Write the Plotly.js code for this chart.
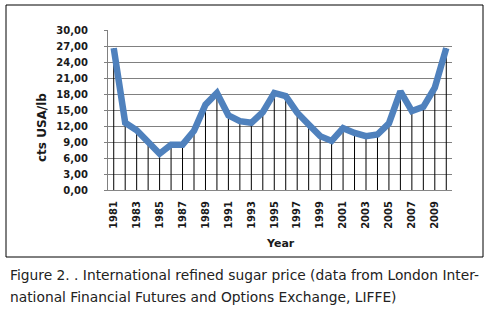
<!DOCTYPE html>
<html>
<head>
<meta charset="utf-8">
<script src="https://cdn.plot.ly/plotly-3.0.1.min.js"></script>
<style>
  html, body { margin: 0; padding: 0; background: #fff; }
  #chart { width: 489px; height: 317px; }
</style>
</head>
<body>
<div id="chart"></div>
<script>
// years and price (cts USA/lb)
const years = [1981, 1982, 1983, 1984, 1985, 1986, 1987, 1988, 1989, 1990,
               1991, 1992, 1993, 1994, 1995, 1996, 1997, 1998, 1999, 2000,
               2001, 2002, 2003, 2004, 2005, 2006, 2007, 2008, 2009, 2010];
const price = [26.6, 12.6, 11.2, 8.9, 6.8, 8.5, 8.5, 11.1, 16.0, 18.2,
               14.0, 12.9, 12.6, 14.6, 18.2, 17.6, 14.5, 12.3, 10.1, 9.2,
               11.6, 10.7, 10.1, 10.4, 12.5, 18.5, 14.8, 15.6, 19.2, 26.6];
const tickYears = years.filter((y, i) => i % 2 === 0).map(String);
const zeros = price.map(() => 0);

const categories = years.map(String);

// plot area in pixels: x 108..452, y 30..190
const W = 489, H = 317;
const L = 108, R = 37, T = 30, B = 127;
const pw = W - L - R, ph = H - T - B;
function px(x) { return (x - L) / pw; }
function py(y) { return (H - B - y) / ph; }

const trace = {
    x: categories,
    y: price,
    type: 'scatter',
    mode: 'lines',
    line: { color: '#4F81BD', width: 6.5 },
    error_y: {
        type: 'data',
        symmetric: false,
        array: zeros,
        arrayminus: price,
        width: 0,
        thickness: 1,
        color: '#000'
    },
    hoverinfo: 'x+y'
};

const labelFont = { family: 'DejaVu Sans', size: 10, color: '#1a1a1a', weight: 'bold' };

const layout = {
    width: W,
    height: H,
    margin: { l: L, r: R, t: T, b: B, pad: 0 },
    paper_bgcolor: '#fff',
    plot_bgcolor: '#fff',
    showlegend: false,
    separators: ',.',
    xaxis: {
        type: 'category',
        range: [-0.5, 29.5],
        tickmode: 'array',
        tickvals: tickYears,
        ticktext: tickYears,
        tickangle: -90,
        tickfont: labelFont,
        showgrid: false,
        showline: true,
        linecolor: '#868686',
        linewidth: 1,
        ticks: '',
        ticklabelstandoff: 6,
        zeroline: false,
        automargin: false
    },
    yaxis: {
        range: [0, 30],
        tickvals: [0, 3, 6, 9, 12, 15, 18, 21, 24, 27, 30],
        tickformat: '.2f',
        tickfont: labelFont,
        showgrid: true,
        gridcolor: '#808080',
        gridwidth: 1,
        showline: true,
        linecolor: '#808080',
        linewidth: 1,
        ticks: 'outside',
        ticklen: 3,
        tickcolor: '#808080',
        ticklabelstandoff: 14,
        zeroline: false,
        automargin: false
    },
    shapes: [{
        type: 'rect',
        xref: 'paper', yref: 'paper',
        x0: px(6), x1: px(483), y0: py(257), y1: py(5),
        line: { color: '#000', width: 1 },
        fillcolor: 'rgba(0,0,0,0)',
        layer: 'below'
    }],
    annotations: [
        {
            text: 'cts USA/lb',
            xref: 'paper', yref: 'paper',
            x: px(33), y: py(128),
            textangle: -90,
            showarrow: false,
            font: { family: 'DejaVu Sans', size: 12, color: '#1a1a1a', weight: 'bold' }
        },
        {
            text: 'Year',
            xref: 'paper', yref: 'paper',
            x: px(280), y: py(243),
            yanchor: 'middle',
            showarrow: false,
            font: { family: 'DejaVu Sans', size: 11, color: '#1a1a1a', weight: 'bold' }
        },
        {
            text: 'Figure 2. . International refined sugar price (data from London Inter-',
            xref: 'paper', yref: 'paper',
            x: px(8), y: py(275),
            xanchor: 'left', yanchor: 'middle',
            showarrow: false,
            font: { family: 'DejaVu Sans', size: 13.8, color: '#222' }
        },
        {
            text: 'national Financial Futures and Options Exchange, LIFFE)',
            xref: 'paper', yref: 'paper',
            x: px(8), y: py(297),
            xanchor: 'left', yanchor: 'middle',
            showarrow: false,
            font: { family: 'DejaVu Sans', size: 13.8, color: '#222' }
        }
    ]
};

Plotly.newPlot('chart', [trace], layout, { displayModeBar: false, staticPlot: true });
</script>
</body>
</html>
